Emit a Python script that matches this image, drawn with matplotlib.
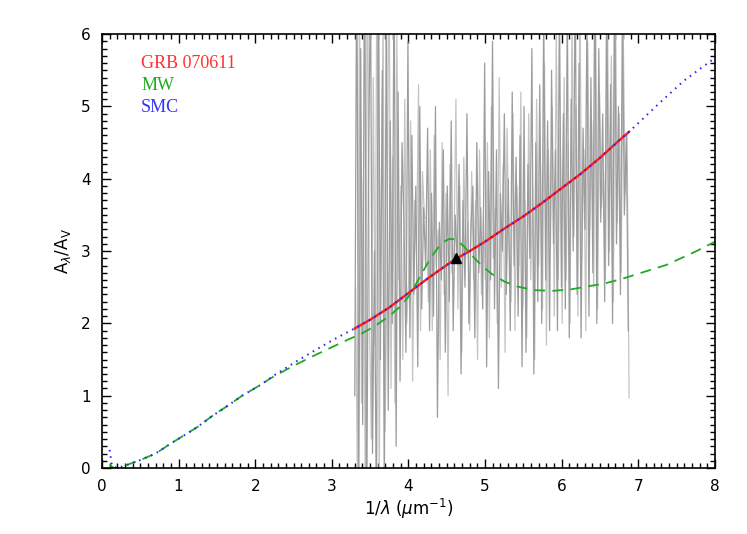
import numpy as np
import matplotlib
matplotlib.use("Agg")
import matplotlib.pyplot as plt
from matplotlib.ticker import MultipleLocator

# SMC extinction curve (blue, dotted)
smc_x = [0.10, 0.13, 0.20, 0.32, 0.50, 0.70, 0.90, 1.10, 1.25, 1.44, 1.64, 1.83,
         2.07, 2.26, 2.50, 2.72, 2.98, 3.10, 3.30, 3.50, 3.75, 4.00, 4.25, 4.45,
         4.60, 4.80, 5.00, 5.25, 5.50, 5.75, 6.00, 6.25, 6.50, 6.75, 6.88, 7.00,
         7.30, 7.60, 8.00]
smc_y = [0.25, 0.03, 0.00, 0.04, 0.11, 0.20, 0.34, 0.47, 0.57, 0.72, 0.86, 1.00,
         1.15, 1.29, 1.45, 1.59, 1.75, 1.82, 1.93, 2.05, 2.22, 2.42, 2.62, 2.77,
         2.88, 3.00, 3.13, 3.31, 3.48, 3.67, 3.87, 4.07, 4.29, 4.53, 4.65, 4.77,
         5.07, 5.36, 5.67]

# MW extinction curve (green, dashed)
mw_x = [0.10, 0.15, 0.25, 0.32, 0.50, 0.70, 0.90, 1.10, 1.25, 1.44, 1.64, 1.83,
        2.07, 2.20, 2.37, 2.55, 2.76, 3.00, 3.20, 3.39, 3.56, 3.76, 3.91, 4.00,
        4.08, 4.17, 4.26, 4.34, 4.41, 4.48, 4.54, 4.62, 4.73, 4.82, 4.91, 5.00,
        5.08, 5.25, 5.42, 5.64, 5.88, 6.12, 6.33, 6.55, 6.77, 6.98, 7.37, 7.76,
        8.00]
mw_y = [0.05, 0.00, 0.00, 0.04, 0.11, 0.20, 0.34, 0.47, 0.57, 0.72, 0.86, 1.00,
        1.15, 1.24, 1.34, 1.44, 1.55, 1.67, 1.77, 1.86, 1.96, 2.11, 2.25, 2.37,
        2.51, 2.68, 2.85, 2.98, 3.08, 3.14, 3.17, 3.16, 3.06, 2.95, 2.85, 2.76,
        2.69, 2.58, 2.51, 2.46, 2.45, 2.47, 2.51, 2.55, 2.61, 2.68, 2.81, 3.00,
        3.13]

# GRB 070611 fit (red)
grb_x = [3.30, 3.50, 3.75, 4.00, 4.25, 4.45, 4.60, 4.80, 5.00, 5.25, 5.50, 5.75,
         6.00, 6.25, 6.50, 6.75, 6.88]
grb_y = [1.93, 2.05, 2.22, 2.42, 2.62, 2.77, 2.88, 3.00, 3.13, 3.31, 3.48, 3.67,
         3.87, 4.07, 4.29, 4.53, 4.65]

# photometric point (triangle)
pt_x = [4.62]
pt_y = [2.90]

# noisy spectrum, two passes (dark / light grey)
spec_dark = [1.0, 7.5, -0.5, 5.8, 0.6, 8.0, -1.0, 4.2, 6.8, 0.2, 3.0, -0.8, 7.2, 1.5,
             5.5, -0.4, 6.5, 0.8, 4.8, 2.0, 7.0, 0.3, 5.2, 1.2, 4.5, 3.4, 1.6,
             5.9, 1.8, 4.6, 2.4, 3.9, 1.4, 5.0, 2.2, 3.6, 2.8, 4.7, 1.9,
             3.8, 2.1, 5.0, 0.7, 3.4, 2.6, 4.4, 1.6, 3.9, 2.3, 4.8, 1.9, 3.5, 2.9,
             4.2, 1.3, 3.7, 2.5, 4.9, 2.0, 3.3, 3.9, 1.8, 4.5, 2.7, 3.6, 2.2,
             5.6, 1.4, 4.1, 2.6, 5.9, 2.2, 4.4, 1.1, 3.8, 3.0, 4.9, 2.4, 4.0, 1.9,
             5.2, 2.8, 4.3, 2.1, 4.6, 1.4,
             5.0, 1.6, 4.2, 2.9, 5.8, 1.3, 4.5, 2.3, 5.3, 2.0, 6.3, 2.6, 4.8, 1.9,
             5.5, 3.1, 4.4, 1.9, 6.5, 2.5,
             4.9, 2.2, 6.4, 1.8, 5.1, 3.0, 6.8, 2.4, 5.6, 1.8, 4.7, 3.3, 6.2, 2.1,
             5.4, 2.7, 7.0, 2.0, 5.8, 3.4, 4.9, 2.3, 6.6, 2.8, 5.3, 2.0, 6.9, 3.1,
             5.0, 2.4, 6.3, 3.5, 4.6, 1.9]
spec_light = [2.5, -0.3, 6.6, 0.9, 4.0, -0.6, 7.8, 2.2, 0.4, 5.4, 1.7, 8.2, -0.2, 3.6,
              6.2, 0.5, 2.8, 7.5, 1.1, 4.3, 0.9, 6.0, 2.6, 3.9, 1.5, 5.1, 2.0,
              2.6, 4.8, 1.2, 3.7, 3.0, 5.3, 1.9, 4.1, 3.46, 3.46, 2.3, 4.4,
              1.9, 4.6, 2.8, 3.3, 1.5, 4.5, 2.4, 3.8, 1.0, 4.2, 2.7, 3.0, 5.1, 2.2,
              3.9, 1.6, 4.3, 2.9, 3.4, 1.9, 4.1, 2.6, 3.7, 1.5, 4.4, 2.4, 3.5,
              2.6, 4.5, 1.8, 5.0, 2.9, 3.6, 2.0, 5.4, 2.5, 4.2, 1.6, 4.7, 3.1, 2.3,
              4.9, 1.9, 3.9, 2.8, 5.2, 2.2,
              3.7, 1.8, 4.9, 2.6, 3.9, 1.5, 5.1, 2.8, 4.2, 2.2, 5.6, 1.7, 4.4, 3.0,
              5.0, 2.1, 6.1, 2.6, 4.7, 2.0,
              5.4, 2.6, 4.5, 2.0, 6.3, 3.2, 5.0, 2.1, 6.7, 2.9, 4.4, 1.9, 5.9, 3.3,
              4.8, 2.5, 6.5, 2.2, 5.2, 3.6, 4.1, 2.6, 6.4, 3.0, 5.7, 2.3, 6.8, 3.4,
              4.9, 2.7, 6.1, 3.8, 4.6, 0.97]
spec_lo, spec_hi = 3.30, 6.88

fig = plt.figure(figsize=(7.47, 5.34), dpi=100)
ax = fig.add_axes([0.1365, 0.1236, 0.8205, 0.8124])

x_dark = np.linspace(spec_lo, spec_hi - 0.01, len(spec_dark))
x_light = np.linspace(spec_lo + 0.01, spec_hi, len(spec_light))
ax.plot(x_light, spec_light, color='#c4c4c4', lw=0.9)
ax.plot(x_dark, spec_dark, color='#9c9c9c', lw=0.9)

ax.plot(mw_x, mw_y, color='#22aa22', lw=1.3, dashes=(6, 4))
ax.plot(grb_x, grb_y, color='#ff1a1a', lw=1.7)
ax.plot(smc_x, smc_y, color='#2222ff', lw=1.4, dashes=(0.8, 2.5))
ax.plot(pt_x, pt_y, marker='^', color='black', ms=7, ls='none')

ax.set_xlim(0, 8)
ax.set_ylim(0, 6)
ax.xaxis.set_major_locator(MultipleLocator(1))
ax.xaxis.set_minor_locator(MultipleLocator(0.1))
ax.yaxis.set_major_locator(MultipleLocator(1))
ax.yaxis.set_minor_locator(MultipleLocator(0.1))
ax.tick_params(which='both', direction='in', top=True, right=True, width=1.0,
               labelsize=11, pad=8)
ax.tick_params(which='major', length=6.5)
ax.tick_params(which='minor', length=3.5)
for s in ax.spines.values():
    s.set_linewidth(1.2)

ax.set_xlabel(r'1/$\lambda$ ($\mu$m$^{-1}$)', fontsize=12, labelpad=2)
ax.set_ylabel(r'A$_\lambda$/A$_\mathrm{V}$', fontsize=12, labelpad=6)

ax.text(0.51, 5.60, 'GRB 070611', color='#ff3030', fontsize=13,
        family='Liberation Serif', va='center')
ax.text(0.51, 5.29, 'MW', color='#22aa22', fontsize=13,
        family='Liberation Serif', va='center')
ax.text(0.51, 4.98, 'SMC', color='#3333ff', fontsize=13,
        family='Liberation Serif', va='center')

fig.savefig('out.png', dpi=100)
